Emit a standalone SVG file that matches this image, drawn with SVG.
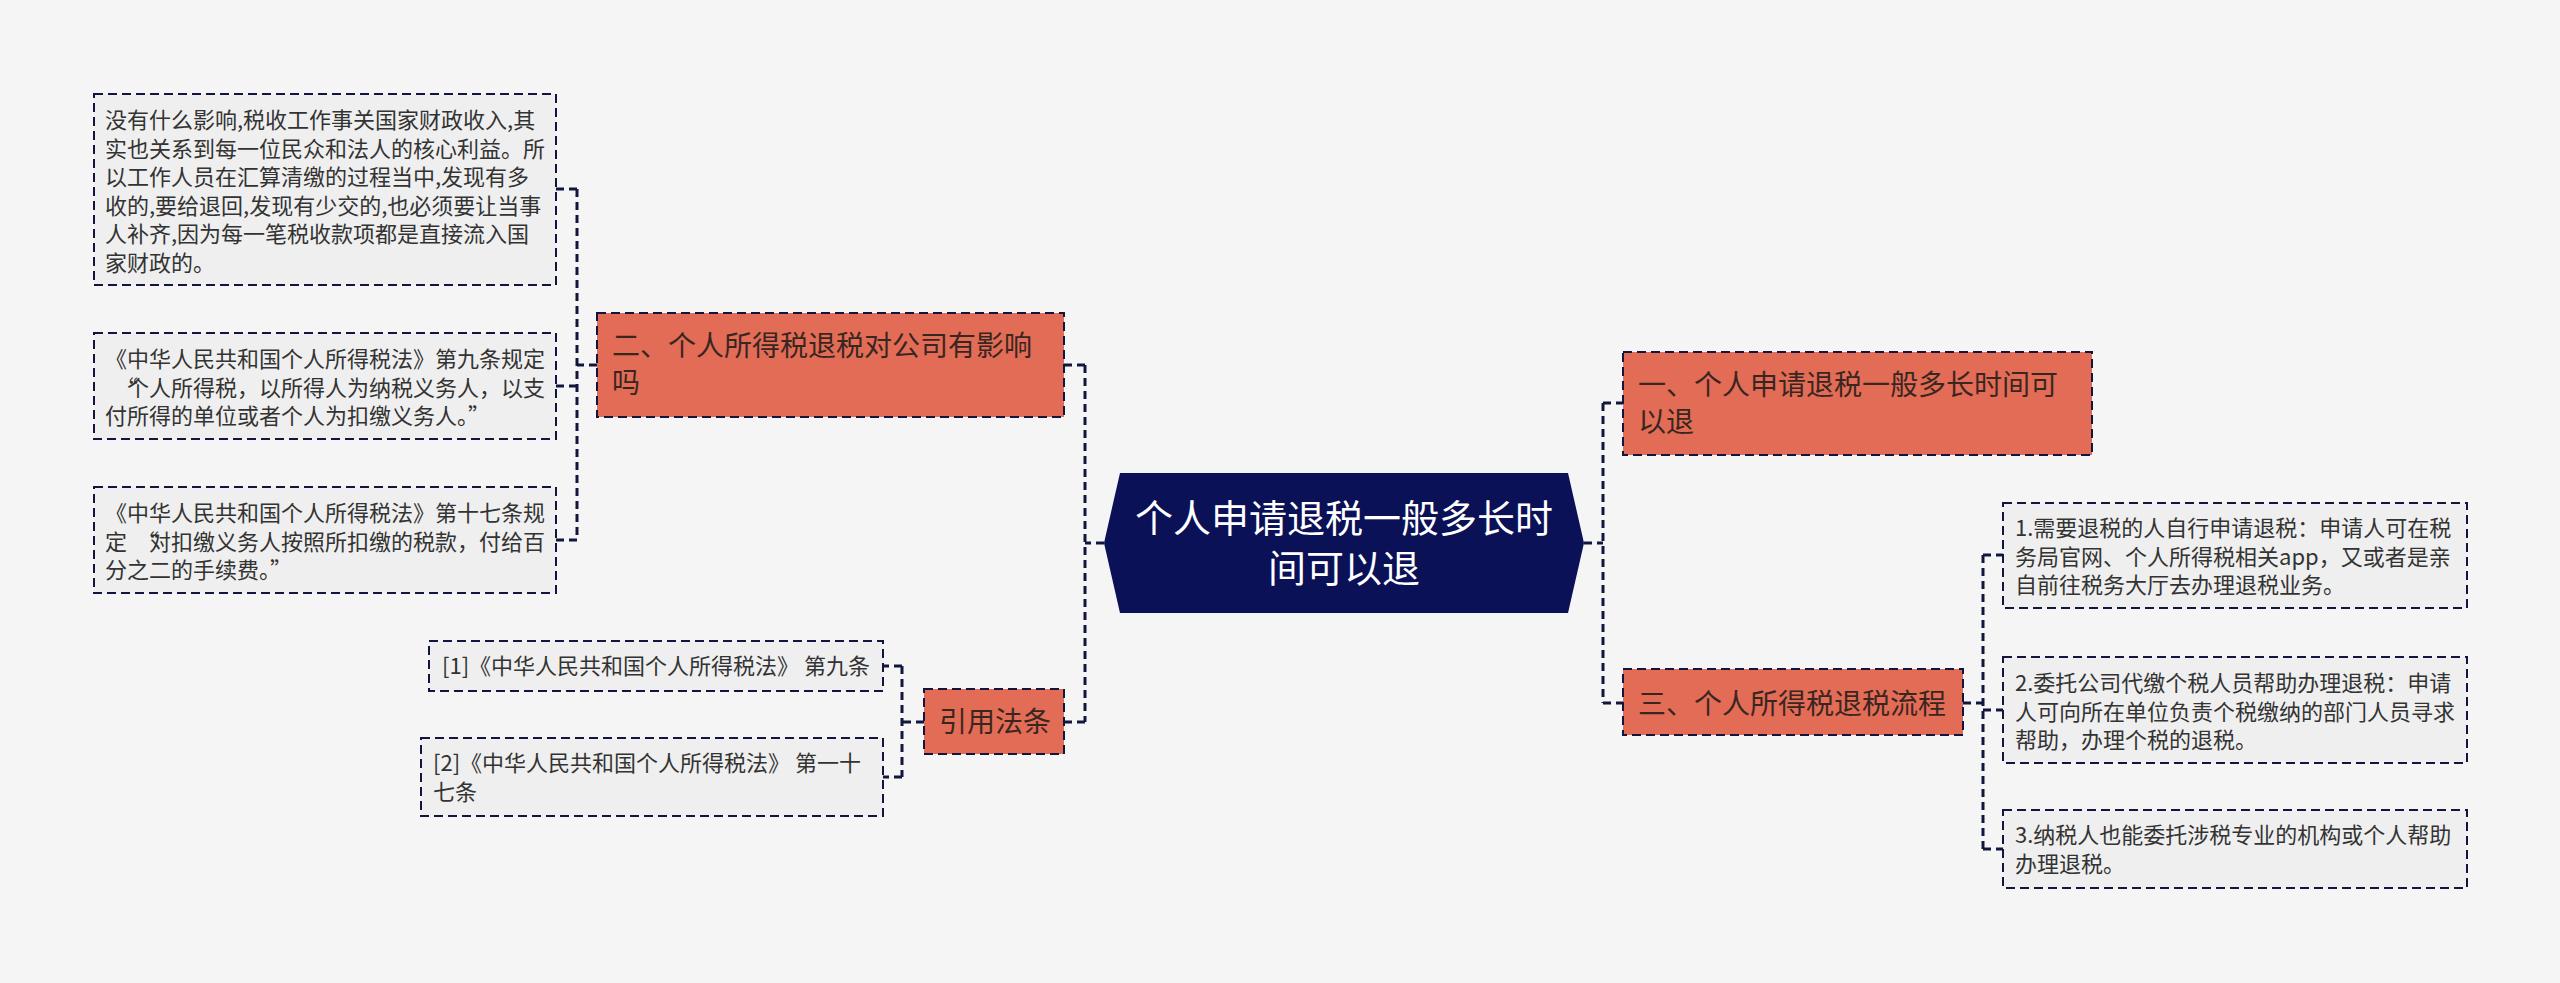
<svg xmlns="http://www.w3.org/2000/svg" width="2560" height="983" viewBox="0 0 2560 983">
<style>
.bg{fill:#f5f5f5}
.leaf{fill:#efefef;stroke:#12163f;stroke-width:2;stroke-dasharray:9 5}
.sub{fill:#e36c57;stroke:#12163f;stroke-width:2;stroke-dasharray:9 5}
.conn{fill:none;stroke:#12163f;stroke-width:3;stroke-dasharray:8 5}
.lt{font-family:"Noto Sans CJK SC","Microsoft YaHei",sans-serif;font-size:22px;fill:#333333}
.st{font-family:"Noto Sans CJK SC","Microsoft YaHei",sans-serif;font-size:28px;fill:#3a2620}
.ct{font-family:"Noto Sans CJK SC","Microsoft YaHei",sans-serif;font-size:38px;fill:#ffffff;text-anchor:middle}
</style>
<rect class="bg" x="0" y="0" width="2560" height="983"/>
<g id="connectors">
<path class="conn" d="M1104 543H1085M1085 365V722M1085 365H1064M1085 722H1064"/>
<path class="conn" d="M597 365H577M577 189V540M577 189H556M577 386H556M577 540H556"/>
<path class="conn" d="M924 722H902M902 666V777M902 666H883M902 777H883"/>
<path class="conn" d="M1584 543H1603M1603 403V703M1603 403H1623M1603 703H1623"/>
<path class="conn" d="M1963 703H1983M1983 555V849M1983 555H2003M1983 710H2003M1983 849H2003"/>
</g>
<g id="center">
<polygon points="1120,473 1568,473 1584,543 1568,613 1120,613 1104,543" fill="#0b1157"/>
<text class="ct"><tspan x="1344" y="532">个人申请退税一般多长时</tspan><tspan x="1344" y="582">间可以退</tspan></text>
</g>
<g id="node-1">
<rect class="sub" x="1623" y="352" width="469" height="103"/>
<text class="st"><tspan x="1638" y="395">一、个人申请退税一般多长时间可</tspan><tspan x="1638" y="432">以退</tspan></text>
</g>
<g id="node-2">
<rect class="sub" x="597" y="313" width="467" height="104"/>
<text class="st"><tspan x="612" y="356">二、个人所得税退税对公司有影响</tspan><tspan x="612" y="393">吗</tspan></text>
</g>
<g id="node-3">
<rect class="sub" x="1623" y="669" width="340" height="66"/>
<text class="st"><tspan x="1638" y="714">三、个人所得税退税流程</tspan></text>
</g>
<g id="node-cite">
<rect class="sub" x="924" y="689" width="140" height="65"/>
<text class="st"><tspan x="939" y="732">引用法条</tspan></text>
</g>
<g id="leaf-2-1">
<rect class="leaf" x="94" y="94" width="462" height="191"/>
<text class="lt"><tspan x="105" y="128">没有什么影响,税收工作事关国家财政收入,其</tspan><tspan x="105" y="156.5">实也关系到每一位民众和法人的核心利益。所</tspan><tspan x="105" y="185">以工作人员在汇算清缴的过程当中,发现有多</tspan><tspan x="105" y="213.5">收的,要给退回,发现有少交的,也必须要让当事</tspan><tspan x="105" y="242">人补齐,因为每一笔税收款项都是直接流入国</tspan><tspan x="105" y="270.5">家财政的。</tspan></text>
</g>
<g id="leaf-2-2">
<rect class="leaf" x="94" y="333" width="462" height="106"/>
<text class="lt"><tspan x="105" y="367">《中华人民共和国个人所得税法》第九条规定</tspan><tspan x="116 127" y="395.5">“个人所得税，以所得人为纳税义务人，以支</tspan><tspan x="105" y="424">付所得的单位或者个人为扣缴义务人。”</tspan></text>
</g>
<g id="leaf-2-3">
<rect class="leaf" x="94" y="487" width="462" height="106"/>
<text class="lt"><tspan x="105" y="521">《中华人民共和国个人所得税法》第十七条规</tspan><tspan x="105 137 149" y="549.5">定“对扣缴义务人按照所扣缴的税款，付给百</tspan><tspan x="105" y="578">分之二的手续费。”</tspan></text>
</g>
<g id="leaf-cite-1">
<rect class="leaf" x="429" y="641" width="454" height="50"/>
<text class="lt"><tspan x="442" y="674">[1]《中华人民共和国个人所得税法》 第九条</tspan></text>
</g>
<g id="leaf-cite-2">
<rect class="leaf" x="421" y="738" width="462" height="78"/>
<text class="lt"><tspan x="433" y="771">[2]《中华人民共和国个人所得税法》 第一十</tspan><tspan x="433" y="799.5">七条</tspan></text>
</g>
<g id="leaf-3-1">
<rect class="leaf" x="2003" y="503" width="464" height="105"/>
<text class="lt"><tspan x="2015" y="536">1.需要退税的人自行申请退税：申请人可在税</tspan><tspan x="2015" y="564.5">务局官网、个人所得税相关app，又或者是亲</tspan><tspan x="2015" y="593">自前往税务大厅去办理退税业务。</tspan></text>
</g>
<g id="leaf-3-2">
<rect class="leaf" x="2003" y="657" width="464" height="106"/>
<text class="lt"><tspan x="2015" y="691">2.委托公司代缴个税人员帮助办理退税：申请</tspan><tspan x="2015" y="719.5">人可向所在单位负责个税缴纳的部门人员寻求</tspan><tspan x="2015" y="748">帮助，办理个税的退税。</tspan></text>
</g>
<g id="leaf-3-3">
<rect class="leaf" x="2003" y="810" width="464" height="78"/>
<text class="lt"><tspan x="2015" y="843">3.纳税人也能委托涉税专业的机构或个人帮助</tspan><tspan x="2015" y="871.5">办理退税。</tspan></text>
</g>
</svg>
